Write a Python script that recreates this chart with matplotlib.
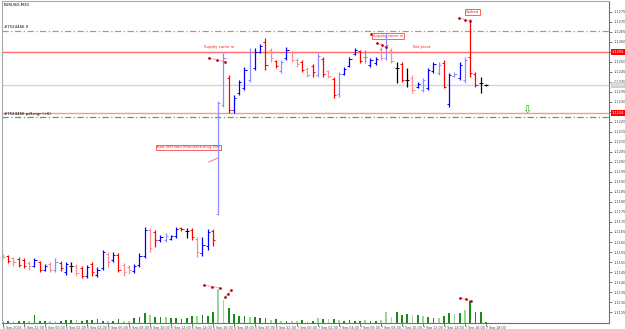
import matplotlib
matplotlib.use("Agg")
import matplotlib.pyplot as plt

title_text = "EURUSD,M30"

time_labels = ["5 Sep 2016", "5 Sep 22:00",
               "6 Sep 00:00", "6 Sep 02:00", "6 Sep 04:00", "6 Sep 06:00", "6 Sep 08:00", "6 Sep 10:00",
               "6 Sep 12:00", "6 Sep 14:00", "6 Sep 16:00", "6 Sep 18:00", "6 Sep 20:00", "6 Sep 22:00",
               "7 Sep 00:00", "7 Sep 02:00", "7 Sep 04:00", "7 Sep 06:00", "7 Sep 08:00", "7 Sep 10:00",
               "7 Sep 12:00", "7 Sep 14:00", "7 Sep 16:00", "7 Sep 18:00"]

highs = [1.11540, 1.11535, 1.11525, 1.11525, 1.11520, 1.11505, 1.11520, 1.11505, 1.11490, 1.11500,
         1.11520, 1.11505, 1.11500, 1.11500, 1.11490, 1.11480, 1.11485, 1.11500, 1.11475, 1.11560,
         1.11550, 1.11550, 1.11545, 1.11495, 1.11485, 1.11490, 1.11545, 1.11675, 1.11670, 1.11660,
         1.11635, 1.11645, 1.11635, 1.11675, 1.11675, 1.11670, 1.11670, 1.11625, 1.11625, 1.11665,
         1.11665, 1.12305, 1.12545, 1.12435, 1.12335, 1.12410, 1.12475, 1.12570, 1.12570, 1.12590,
         1.12620, 1.12570, 1.12510, 1.12510, 1.12575, 1.12560, 1.12520, 1.12510, 1.12475, 1.12490,
         1.12545, 1.12525, 1.12460, 1.12425, 1.12450, 1.12475, 1.12525, 1.12570, 1.12560, 1.12560,
         1.12520, 1.12525, 1.12575, 1.12645, 1.12570, 1.12500, 1.12500, 1.12470, 1.12435, 1.12400,
         1.12420, 1.12470, 1.12500, 1.12500, 1.12510, 1.12445, 1.12450, 1.12500, 1.12525, 1.12715,
         1.12450, 1.12425, 1.12390]
lows = [1.11520, 1.11495, 1.11480, 1.11475, 1.11470, 1.11460, 1.11475, 1.11450, 1.11455, 1.11450,
        1.11450, 1.11455, 1.11435, 1.11450, 1.11430, 1.11420, 1.11420, 1.11430, 1.11425, 1.11460,
        1.11475, 1.11500, 1.11450, 1.11430, 1.11440, 1.11445, 1.11475, 1.11520, 1.11550, 1.11575,
        1.11600, 1.11600, 1.11610, 1.11620, 1.11655, 1.11620, 1.11610, 1.11525, 1.11530, 1.11560,
        1.11580, 1.11735, 1.12275, 1.12245, 1.12245, 1.12335, 1.12360, 1.12400, 1.12460, 1.12545,
        1.12460, 1.12500, 1.12470, 1.12445, 1.12510, 1.12500, 1.12475, 1.12450, 1.12425, 1.12425,
        1.12425, 1.12425, 1.12420, 1.12320, 1.12325, 1.12435, 1.12475, 1.12535, 1.12495, 1.12495,
        1.12475, 1.12485, 1.12510, 1.12510, 1.12495, 1.12395, 1.12400, 1.12375, 1.12345, 1.12370,
        1.12350, 1.12360, 1.12445, 1.12435, 1.12370, 1.12275, 1.12425, 1.12410, 1.12395, 1.12425,
        1.12375, 1.12345, 1.12380]
opens = [1.11535, 1.11530, 1.11520, 1.11515, 1.11510, 1.11495, 1.11480, 1.11500, 1.11460, 1.11490,
         1.11460, 1.11495, 1.11450, 1.11480, 1.11480, 1.11470, 1.11430, 1.11490, 1.11435, 1.11470,
         1.11540, 1.11510, 1.11535, 1.11485, 1.11475, 1.11455, 1.11485, 1.11530, 1.11660, 1.11650,
         1.11610, 1.11610, 1.11615, 1.11630, 1.11670, 1.11655, 1.11660, 1.11615, 1.11545, 1.11580,
         1.11655, 1.11740, 1.12285, 1.12420, 1.12260, 1.12345, 1.12370, 1.12410, 1.12470, 1.12550,
         1.12600, 1.12560, 1.12505, 1.12455, 1.12520, 1.12550, 1.12510, 1.12500, 1.12465, 1.12480,
         1.12435, 1.12515, 1.12455, 1.12415, 1.12340, 1.12440, 1.12480, 1.12540, 1.12555, 1.12525,
         1.12485, 1.12495, 1.12565, 1.12520, 1.12560, 1.12470, 1.12490, 1.12410, 1.12420, 1.12375,
         1.12360, 1.12370, 1.12455, 1.12445, 1.12495, 1.12290, 1.12430, 1.12420, 1.12410, 1.12525,
         1.12440, 1.12395, 1.12385]
closes = [1.11525, 1.11505, 1.11500, 1.11485, 1.11480, 1.11480, 1.11510, 1.11460, 1.11480, 1.11460,
          1.11500, 1.11470, 1.11490, 1.11480, 1.11445, 1.11430, 1.11475, 1.11450, 1.11460, 1.11550,
          1.11500, 1.11535, 1.11460, 1.11450, 1.11460, 1.11480, 1.11530, 1.11660, 1.11570, 1.11610,
          1.11625, 1.11630, 1.11630, 1.11665, 1.11665, 1.11655, 1.11625, 1.11550, 1.11585, 1.11650,
          1.11610, 1.12295, 1.12520, 1.12260, 1.12320, 1.12400, 1.12460, 1.12550, 1.12550, 1.12580,
          1.12485, 1.12520, 1.12480, 1.12500, 1.12560, 1.12510, 1.12490, 1.12460, 1.12435, 1.12450,
          1.12530, 1.12440, 1.12430, 1.12335, 1.12440, 1.12465, 1.12515, 1.12560, 1.12505, 1.12525,
          1.12510, 1.12515, 1.12520, 1.12585, 1.12505, 1.12470, 1.12410, 1.12410, 1.12360, 1.12390,
          1.12410, 1.12460, 1.12490, 1.12485, 1.12375, 1.12435, 1.12440, 1.12485, 1.12510, 1.12445,
          1.12385, 1.12395, 1.12385]
pale = [1, 0, 1, 0, 0, 1, 0, 0, 0, 1,
        1, 0, 0, 0, 1, 0, 0, 0, 0, 0,
        1, 0, 0, 1, 1, 0, 0, 0, 1, 0,
        0, 1, 0, 0, 0, 0, 0, 1, 0, 0,
        0, 1, 1, 0, 0, 0, 0, 1, 0, 0,
        0, 1, 0, 1, 0, 1, 1, 0, 1, 0,
        1, 0, 1, 0, 1, 0, 0, 0, 0, 1,
        0, 0, 1, 1, 1, 0, 0, 0, 1, 0,
        1, 0, 0, 1, 0, 0, 1, 0, 1, 0,
        0, 0, 0]
volumes = [200, 170, 200, 200, 200, 200, 770, 170, 200, 170,
           170, 170, 230, 270, 270, 200, 270, 270, 330, 200,
           170, 200, 330, 200, 200, 430, 530, 930, 770, 600,
           530, 600, 430, 430, 370, 500, 670, 700, 770, 670,
           1100, 3400, 2270, 1450, 900, 650, 680, 600, 600, 430,
           430, 270, 370, 200, 170, 170, 200, 270, 200, 170,
           450, 330, 330, 370, 270, 170, 270, 200, 200, 230,
           170, 200, 270, 1030, 530, 1030, 770, 830, 770, 770,
           670, 570, 500, 430, 670, 930, 870, 930, 1270, 2170,
           1100, 1100, 50]

level_orange = 1.12655
level_supply = 1.12550
level_current = 1.12385
level_demand = 1.12245
level_green = 1.12225

price_ticks = [1.1275, 1.1270, 1.1265, 1.1260, 1.1255, 1.1250, 1.1245, 1.1240, 1.1235, 1.1230,
               1.1225, 1.1220, 1.1215, 1.1210, 1.1205, 1.1200, 1.1195, 1.1190, 1.1185, 1.1180,
               1.1175, 1.1170, 1.1165, 1.1160, 1.1155, 1.1150, 1.1145, 1.1140, 1.1135, 1.1130,
               1.1125]

fig = plt.figure(figsize=(6.25, 3.29), dpi=100)
fig.patch.set_facecolor("white")
ax = fig.add_axes([0.0032, 0.0191, 0.9712, 0.978])
ax.set_xlim(-0.19, 115.43)
ax.set_ylim(1.111965, 1.12805)

# volumes on a twin axis
vax = ax.twinx()
vax.set_ylim(0, 32170)
vax.set_yticks([])
for s in vax.spines.values():
    s.set_visible(False)
n = len(closes)
xs = list(range(n))
vcols = ["#9ad49a" if p else "#1a8a1a" for p in pale]
vax.bar(xs, volumes, width=0.3, color=vcols, linewidth=0)

# horizontal levels
ax.axhline(level_orange, color="#f08050", lw=0.9, dashes=(5, 2, 1, 2))
ax.axhline(level_supply, color="#ff6a6a", lw=1.0)
ax.axhline(level_current, color="#d4d4d4", lw=1.0)
ax.axhline(level_demand, color="#ff9494", lw=1.0)
ax.axhline(level_green, color="#50a850", lw=0.9, dashes=(5, 2, 1, 2))

# OHLC bars
bar_cols = []
for o, c, p in zip(opens, closes, pale):
    if c > o:
        bar_cols.append("#8c8cff" if p else "#0000ff")
    elif c < o:
        bar_cols.append("#ff8c8c" if p else "#ff0000")
    else:
        bar_cols.append("#909090" if p else "#000000")
ax.vlines(xs, lows, highs, colors=bar_cols, lw=0.9, zorder=4)
ax.hlines(opens, [x - 0.4 for x in xs], xs, colors=bar_cols, lw=0.7, zorder=4)
ax.hlines(closes, xs, [x + 0.4 for x in xs], colors=bar_cols, lw=0.7, zorder=4)

# axes styling
for side in ["left", "top"]:
    ax.spines[side].set_color("#a8a8a8")
for side in ["right", "bottom"]:
    ax.spines[side].set_color("#707070")
ax.yaxis.tick_right()
ax.set_yticks(price_ticks)
covered = [level_supply, level_demand]
ax.set_yticklabels(["" if any(abs(t - c) < 0.0002 for c in covered) else f"{t:.4f}" for t in price_ticks])
ax.tick_params(axis="y", labelsize=2.6, length=2, width=0.5, pad=1, colors="#444444")
ax.set_xticks(list(range(0, n, 4)))
ax.set_xticklabels(time_labels, ha="left")
ax.tick_params(axis="x", labelsize=2.3, length=2, width=0.5, pad=0.5, colors="#444444")

fs = 2.8
ax.text(0.003, 0.993, title_text, transform=ax.transAxes, fontsize=fs, va="top", ha="left")
ytr = ax.get_yaxis_transform()
ax.text(0.003, level_orange + 0.00008, "#7524466 II", fontsize=fs, va="bottom", ha="left", transform=ytr)
ax.text(0.003, level_green + 0.00004, "#7524466 pdf.mgr (+6)", fontsize=fs, va="bottom", ha="left",
        transform=ytr)

# price boxes on the right scale
for lvl, fc in [(level_supply, "#ff0000"), (level_current, "#d0d0d0"), (level_demand, "#ff0000")]:
    ax.text(1.004, lvl, f"{lvl:.4f}", transform=ytr, fontsize=2.6, color="white", va="center", ha="left",
            bbox=dict(boxstyle="square,pad=0.2", fc=fc, ec=fc, lw=0), clip_on=False, zorder=6)

# annotations
red = "#ff2020"
dot = dict(marker="o", ms=0.9, mfc="#aa0000", mec="#aa0000")
box = dict(boxstyle="square,pad=0.25", fc="white", ec=red, lw=0.5)
ax.text(38.3, 1.12565, "Supply came in", fontsize=fs, color=red, va="bottom", ha="left")
ax.plot([39.24, 40.8, 42.3], [1.12520, 1.12510, 1.12500], color="#ff6060", lw=0.6, ls=(0, (1.5, 0.8)),
        zorder=5, **dot)
ax.text(70.4, 1.126275, "Supply came in", fontsize=fs, color=red, va="center", ha="left", bbox=box)
ax.plot([70.1], [1.12640], ls="none", **dot)
ax.plot([71.2, 72.1, 72.95], [1.12595, 1.12585, 1.12575], color="#ff6060", lw=0.6, ls=(0, (1.5, 0.8)),
        zorder=5, **dot)
ax.text(78.1, 1.12565, "Kat pivot", fontsize=fs, color=red, va="bottom", ha="left")
ax.text(88.1, 1.12750, "Spiked", fontsize=fs, color=red, va="center", ha="left", bbox=box)
ax.plot([86.9, 88.0, 88.95], [1.12720, 1.12712, 1.12705], color="#ff6060", lw=0.6, ls=(0, (1.5, 0.8)),
        zorder=5, **dot)
ax.text(29.4, 1.120725, "Bad ISM Non Manufacturing PMI", fontsize=fs, color=red, va="center",
        ha="left", bbox=box)
ax.plot([39.2, 40.95], [1.12000, 1.12020], color="#ff6060", lw=0.6)
ax.text(99.8, 1.12262, "\u21e9", fontsize=8, color="#22bb22", va="center", ha="center")

# volume annotations
vax.plot([38.3, 39.8, 41.3], [3770, 3620, 3470], color="#ff6060", lw=0.6, ls=(0, (1.5, 0.8)), **dot)
vax.plot([42.3, 42.85, 43.4], [2570, 2920, 3270], color="#ff6060", lw=0.6, ls=(0, (1.5, 0.8)), **dot)
vax.plot([87.05, 88.1, 89.1], [2500, 2350, 2200], color="#ff6060", lw=0.6, ls=(0, (1.5, 0.8)), **dot)

fig.savefig("out.png", dpi=100)
